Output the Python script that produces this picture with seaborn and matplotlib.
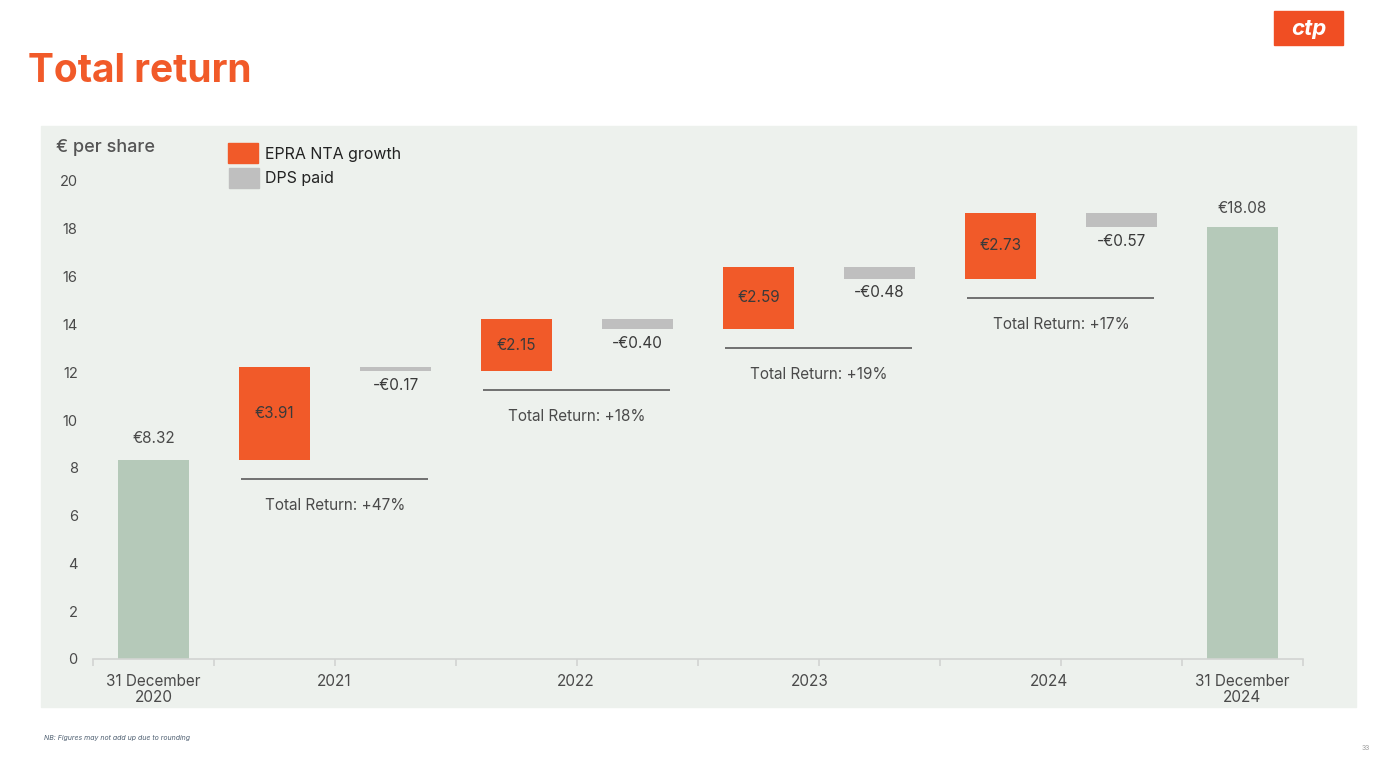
import numpy as np
import pandas as pd
import matplotlib.pyplot as plt
import seaborn as sns
from matplotlib.patches import Rectangle

# ── DATA ──────────────────────────────────────────────────
start_value = 8.32
end_value = 18.08
years = ["2021", "2022", "2023", "2024"]
nta_growth = [3.91, 2.15, 2.59, 2.73]
dps_paid = [-0.17, -0.40, -0.48, -0.57]
total_return = [47, 18, 19, 17]
edge_labels = ["31 December\n2020", "31 December\n2024"]
y_ticks = [0, 2, 4, 6, 8, 10, 12, 14, 16, 18, 20]

# ── STYLE ─────────────────────────────────────────────────
ORANGE = "#F15A29"
GREY = "#BFBFBF"
GREEN = "#B5C9B9"
PANEL = "#EDF1ED"
TEXT = "#4A4A4A"

sns.set_theme(style="white")
plt.rcParams["font.family"] = ["Inter", "DejaVu Sans"]

W, H = 1381, 762
fig = plt.figure(figsize=(W / 100, H / 100), dpi=100)
fig.patch.set_facecolor("white")

def fx(px):
    return px / W

def fy(py):
    return 1 - py / H

# grey-green chart panel (behind the axes)
fig.patches.append(Rectangle((fx(41), fy(707)), fx(1356) - fx(41), fy(126) - fy(707),
                             transform=fig.transFigure, color=PANEL, zorder=-10))

ax = fig.add_axes([fx(93), fy(659), fx(1303) - fx(93), 21 * 23.9 / H])
ax.set_facecolor("none")
ax.set_zorder(1)

# ── WATERFALL LEVELS ──────────────────────────────────────
n_slots = 2 + 2 * len(years)
slots = [f"s{i}" for i in range(n_slots)]
bar_w = 0.58

# start / end totals via seaborn
totals = pd.DataFrame({"slot": [slots[0], slots[-1]], "value": [start_value, end_value]})
sns.barplot(data=totals, x="slot", y="value", order=slots, color=GREEN,
            saturation=1, width=bar_w, linewidth=0, ax=ax, zorder=2)

level = start_value
for i, (yr, g, d, tr) in enumerate(zip(years, nta_growth, dps_paid, total_return)):
    s_nta = 1 + 2 * i
    s_dps = s_nta + 1
    base = level
    ax.bar(s_nta, g, bottom=base, width=bar_w, color=ORANGE, linewidth=0, zorder=2)
    ax.text(s_nta, base + g / 2, f"€{g:.2f}", ha="center", va="center",
            fontsize=11, color="#3A3A3A", zorder=3)
    level = base + g
    ax.bar(s_dps, d, bottom=level, width=bar_w, color=GREY, linewidth=0, zorder=2)
    ax.annotate(f"-€{abs(d):.2f}", (s_dps, level + d), xytext=(0, -5),
                textcoords="offset points", ha="center", va="top",
                fontsize=11, color="#3A3A3A")
    level = level + d
    # total return marker line
    line_y = base - 0.8
    ax.plot([s_nta - 0.28, s_nta + 1.27], [line_y, line_y], color="#707070",
            lw=1.4, zorder=2, solid_capstyle="butt")
    ax.annotate(f"Total Return: +{tr}%", (s_nta + 0.5, line_y), xytext=(0, -19),
                textcoords="offset points", ha="center", va="center",
                fontsize=11, color=TEXT)

ax.annotate(f"€{start_value:.2f}", (0, start_value), xytext=(0, 10),
            textcoords="offset points", ha="center", va="bottom", fontsize=11, color=TEXT)
ax.annotate(f"€{end_value:.2f}", (n_slots - 1, end_value), xytext=(0, 8),
            textcoords="offset points", ha="center", va="bottom", fontsize=11, color=TEXT)

# ── AXES ──────────────────────────────────────────────────
ax.set_xlim(-0.5, n_slots - 0.5)
ax.set_ylim(0, 21)
ax.set_xlabel("")
ax.set_ylabel("")
for side in ["top", "right", "left"]:
    ax.spines[side].set_visible(False)
ax.spines["bottom"].set_color("#D2D4D2")
ax.spines["bottom"].set_linewidth(1.2)

ax.set_yticks(y_ticks)
ax.set_yticklabels([str(t) for t in y_ticks])
ax.tick_params(axis="y", length=0, pad=11, labelsize=10.5, labelcolor=TEXT)

label_pos = [0, 1.49, 3.49, 5.42, 7.4, n_slots - 1]
ax.set_xticks(label_pos)
ax.set_xticklabels([edge_labels[0]] + years + [edge_labels[1]])
ax.tick_params(axis="x", which="major", bottom=True, length=0, pad=11,
               labelsize=11, labelcolor=TEXT)
ax.xaxis.remove_overlapping_locs = False
ax.set_xticks(np.arange(-0.5, n_slots, 1.0), minor=True)
ax.tick_params(axis="x", which="minor", bottom=True, length=5, width=1.2,
               color="#D2D4D2", direction="out")
for lbl in ax.get_xticklabels():
    lbl.set_linespacing(1.05)

# ── FIGURE TEXT ───────────────────────────────────────────
fig.text(fx(28), fy(72), "Total return", color=ORANGE, fontsize=28,
         fontweight="bold", ha="left", va="center")
fig.text(fx(56), fy(148), "€ per share", color="#555555", fontsize=13,
         fontweight="medium", ha="left", va="center")

# legend
fig.patches.append(Rectangle((fx(228), fy(163)), fx(30), 20 / H, transform=fig.transFigure,
                             color=ORANGE, zorder=3))
fig.patches.append(Rectangle((fx(229), fy(188)), fx(30), 20 / H, transform=fig.transFigure,
                             color=GREY, zorder=3))
fig.text(fx(265), fy(154), "EPRA NTA growth", fontsize=11.5, color="#222222", va="center")
fig.text(fx(265), fy(179), "DPS paid", fontsize=11.5, color="#222222", va="center")

# logo
fig.patches.append(Rectangle((fx(1274), fy(45)), fx(69), 34 / H, transform=fig.transFigure,
                             color="#F04E23", zorder=3))
fig.text(fx(1308.5), fy(29), "ctp", color="white", fontsize=16, fontweight="bold",
         fontstyle="italic", ha="center", va="center", zorder=4)

fig.text(fx(44), fy(738), "NB: Figures may not add up due to rounding", fontsize=5,
         fontstyle="italic", color="#4D5E70", va="center")
fig.text(fx(1362), fy(748), "33", fontsize=5, color="#999999", va="center")

fig.savefig("out.png", dpi=100, facecolor="white")
